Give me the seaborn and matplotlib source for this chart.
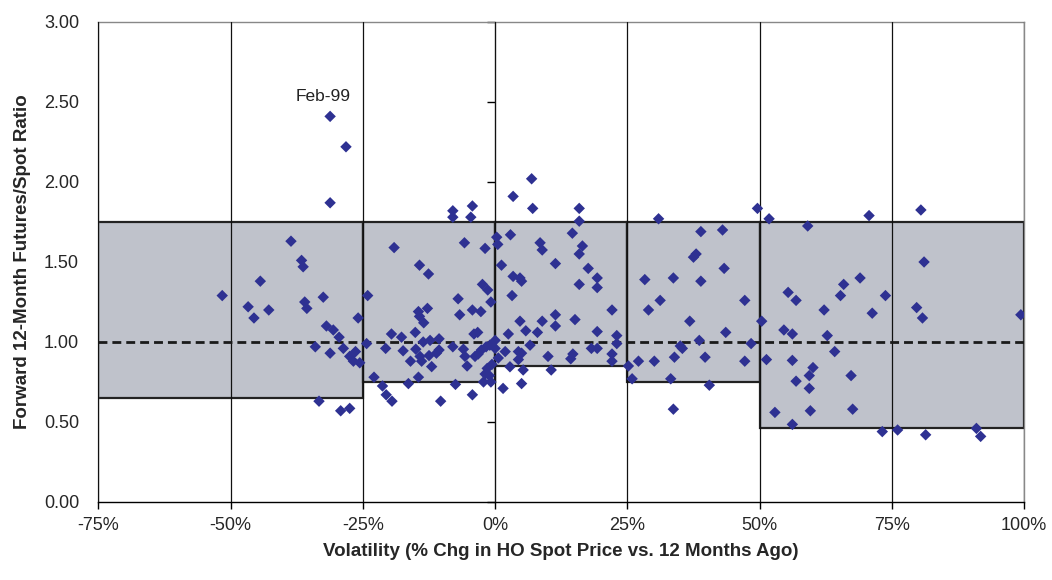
import matplotlib
matplotlib.use("Agg")
import matplotlib.pyplot as plt
import seaborn as sns
import pandas as pd

# ---- data ----
vol_pct = [
    -51.6, -44.4, -46.7, -45.6, -42.8, -38.6, -36.6, -36.3, -36.0, -35.6, -32.5, -31.2, -28.2, -31.2,
    -25.9, -31.9, -30.6, -29.5, -34.0, -31.2, -28.7, -27.5, -26.4, -26.8, -25.6, -33.3, -29.2, -27.5,
    -24.1, -24.3, -22.9, -21.3, -20.6, -19.5, -19.6, -17.7, -20.7, -17.4, -16.4, -19.1, -14.3, -12.6,
    -15.1, -15.0, -16.0, -14.5, -14.3, -13.5, -12.8, -14.2, -13.9, -13.6, -12.3, -12.5, -12.0, -11.1,
    -10.6, -10.6, -14.5, -10.3, -8.0, -8.0, -4.3, -4.6, -5.8, -1.9, -7.0, -6.7, -4.3, -2.7, -2.4, -1.4,
    -0.8, -8.0, -6.0, -5.7, -5.3, -4.0, -3.3, -3.8, -3.2, -2.6, -1.7, -1.0, -1.5, -1.9, -1.1, -2.2,
    -7.5, -4.3, -0.8, -0.6,
    0.0, 0.3, 0.5, 1.2, 1.5, 1.9, 6.9, 3.4, 7.1, 2.9, 8.5, 8.9, 11.4, 3.4, 4.7, 5.0, 3.2, 4.7, 5.8,
    2.5, 8.0, 8.9, 11.4, 11.4, 4.4, 5.0, 6.6, 0.6, 4.4, 2.8, 10.0, 5.3, 10.6, 5.0, 0.0, 15.9, 15.9,
    14.6, 16.5, 15.9, 17.6, 19.3, 19.3, 15.9, 22.1, 15.1, 19.3, 23.0, 23.0, 18.2, 19.3, 22.1, 22.1,
    14.7, 14.3,
    25.2, 25.9, 27.1, 30.9, 38.9, 43.0, 37.5, 38.0, 43.3, 28.3, 33.7, 38.9, 31.2, 29.0, 47.2, 36.8,
    43.6, 38.6, 35.0, 35.4, 48.4, 39.7, 33.9, 30.1, 47.2, 33.2, 40.5, 33.7, 49.6,
    50.4, 51.3, 51.8, 59.1, 70.7, 80.5, 81.1, 69.0, 65.9, 65.3, 55.4, 56.9, 73.8, 62.2, 71.3, 79.7,
    80.8, 99.4, 54.6, 56.2, 62.8, 64.2, 56.2, 60.1, 59.4, 67.3, 56.9, 59.4, 52.9, 59.6, 67.6, 56.2,
    73.2, 76.1, 81.4, 91.0, 91.8,
]
ratio = [
    1.29, 1.38, 1.22, 1.15, 1.20, 1.63, 1.51, 1.47, 1.25, 1.21, 1.28, 2.41, 2.22, 1.87,
    1.15, 1.10, 1.075, 1.03, 0.97, 0.93, 0.96, 0.91, 0.94, 0.88, 0.87, 0.63, 0.57, 0.585,
    1.29, 0.99, 0.78, 0.725, 0.67, 0.63, 1.05, 1.03, 0.96, 0.945, 0.74, 1.59, 1.48, 1.425,
    1.06, 0.955, 0.88, 1.19, 1.16, 1.12, 1.21, 0.91, 0.88, 1.00, 1.01, 0.915, 0.846, 0.93,
    0.95, 1.02, 0.78, 0.63, 1.82, 1.78, 1.85, 1.78, 1.62, 1.585, 1.27, 1.17, 1.20, 1.19, 1.36, 1.325,
    1.25, 0.97, 0.955, 0.91, 0.85, 1.05, 1.06, 0.91, 0.925, 0.95, 0.97, 0.98, 0.835, 0.80, 0.79, 0.75,
    0.735, 0.67, 0.75, 0.86,
    1.01, 1.655, 1.61, 1.48, 0.71, 0.94, 2.02, 1.91, 1.835, 1.67, 1.62, 1.575, 1.49, 1.41, 1.40, 1.38, 1.29, 1.13, 1.07,
    1.05, 1.06, 1.13, 1.17, 1.10, 0.94, 0.93, 0.98, 0.90, 0.89, 0.845, 0.91, 0.825, 0.825, 0.74, 0.96, 1.835, 1.755,
    1.68, 1.60, 1.55, 1.46, 1.40, 1.34, 1.36, 1.20, 1.14, 1.065, 1.04, 0.99, 0.96, 0.96, 0.925, 0.88,
    0.925, 0.895,
    0.85, 0.77, 0.88, 1.77, 1.69, 1.70, 1.53, 1.55, 1.46, 1.39, 1.40, 1.38, 1.26, 1.20, 1.26, 1.13,
    1.06, 1.01, 0.975, 0.96, 0.99, 0.905, 0.905, 0.88, 0.88, 0.77, 0.73, 0.58, 1.835,
    1.13, 0.89, 1.77, 1.725, 1.79, 1.825, 1.50, 1.40, 1.36, 1.29, 1.31, 1.26, 1.29, 1.20, 1.18, 1.215,
    1.15, 1.17, 1.075, 1.05, 1.04, 0.94, 0.885, 0.84, 0.79, 0.79, 0.755, 0.71, 0.56, 0.57, 0.58, 0.485,
    0.44, 0.45, 0.42, 0.46, 0.41,
]

box_left = [-75, -25, 0, 25, 50]
box_right = [-25, 0, 25, 50, 100]
box_low = [0.65, 0.75, 0.85, 0.75, 0.46]
box_high = [1.75, 1.75, 1.75, 1.75, 1.75]

x_ticks = [-75, -50, -25, 0, 25, 50, 75, 100]
x_tick_labels = ["-75%", "-50%", "-25%", "0%", "25%", "50%", "75%", "100%"]
y_ticks = [0.0, 0.5, 1.0, 1.5, 2.0, 2.5, 3.0]
y_tick_labels = ["0.00", "0.50", "1.00", "1.50", "2.00", "2.50", "3.00"]

annot_label = "Feb-99"
annot_x, annot_y = -31.2, 2.41

# ---- plot ----
sns.set_style("white")
plt.rcParams['font.family'] = ['Liberation Sans', 'DejaVu Sans']

fig = plt.figure(figsize=(10.52, 5.80), dpi=100)
ax = fig.add_axes([0.0936, 0.1345, 0.8798, 0.8276])

widths = [r - l for l, r in zip(box_left, box_right)]
heights = [h - l for l, h in zip(box_low, box_high)]
ax.bar(box_left, heights, width=widths, bottom=box_low, align='edge',
       color='#BFC2CB', edgecolor='#222222', linewidth=1.6, zorder=1)

ax.axhline(1.0, color='#1a1a1a', linewidth=2.0, linestyle=(0, (3.2, 1.8)), zorder=2.7)

df = pd.DataFrame({"vol": vol_pct, "ratio": ratio})
sns.scatterplot(data=df, x="vol", y="ratio", marker='D', s=34, color='#2E3192',
                edgecolor='none', linewidth=0, ax=ax, zorder=3, legend=False)

ax.annotate(annot_label, xy=(annot_x, annot_y), xytext=(-5, 14), textcoords='offset points',
            ha='center', va='center', fontsize=12.5, color='#222222')

ax.set_xlim(-75, 100)
ax.set_ylim(0, 3)
ax.set_xticks(x_ticks)
ax.set_xticklabels(x_tick_labels, fontsize=13)
ax.set_yticks(y_ticks)
ax.set_yticklabels(y_tick_labels, fontsize=13)

ax.set_axisbelow(False)
ax.xaxis.grid(True, color='#111111', linewidth=0.9)
ax.yaxis.grid(False)

ax.tick_params(axis='x', direction='out', length=5, width=1, color='black', pad=6, bottom=True)
ax.tick_params(axis='y', length=0, pad=14)

for side in ['left', 'top', 'right']:
    ax.spines[side].set_color('#888888')
    ax.spines[side].set_linewidth(1.0)
ax.spines['bottom'].set_color('black')
ax.spines['bottom'].set_linewidth(1.0)

sec = ax.secondary_yaxis(75 / 175)
sec.set_yticks(y_ticks)
sec.set_yticklabels([])
sec.tick_params(direction='out', length=6, width=1, color='black')
sec.spines['left'].set_color('#111111')

ax.set_xlabel("Volatility (% Chg in HO Spot Price vs. 12 Months Ago)", fontsize=13.5,
              fontweight='bold', labelpad=6)
ax.set_ylabel("Forward 12-Month Futures/Spot Ratio", fontsize=13.5, fontweight='bold', labelpad=9)

fig.savefig("out.png", dpi=100)
